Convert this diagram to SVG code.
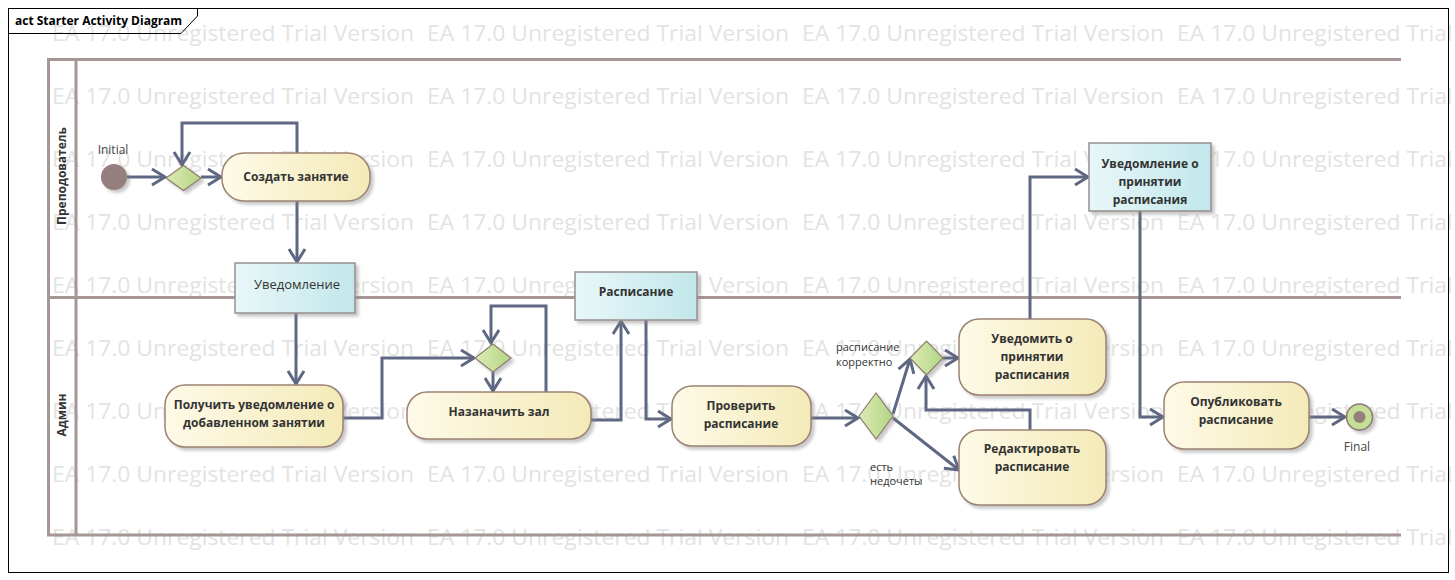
<svg xmlns="http://www.w3.org/2000/svg" width="1455" height="580" viewBox="0 0 1455 580">
<style>
.wm{font-family:"Open Sans","Noto Sans",sans-serif;font-size:21px;fill:#e3e3e3}
.t{font-family:"Open Sans","Noto Sans",sans-serif;font-size:12px;font-weight:bold;fill:#333;text-anchor:middle}
.r{font-family:"Open Sans","Noto Sans",sans-serif;font-size:12px;fill:#444;text-anchor:middle}
.g{font-family:"Open Sans","Noto Sans",sans-serif;font-size:11px;fill:#333}
.act{fill:url(#ga);stroke:#9c8272;stroke-width:1.5;filter:url(#sh)}
.obj{fill:url(#go);stroke:#9a8e8e;stroke-width:1.5;filter:url(#sh)}
.dec{fill:url(#gd);stroke:#8e7d6c;stroke-width:1.2;filter:url(#sh)}
.lane{stroke:#a69696;stroke-width:3;fill:none}
.c{fill:none;stroke:#5f6882;stroke-width:3;marker-end:url(#ah)}
</style>
<defs>
<linearGradient id="ga" x1="0" y1="0" x2="1" y2="0"><stop offset="0" stop-color="#fdfae8"/><stop offset="1" stop-color="#f4eab8"/></linearGradient>
<linearGradient id="go" x1="0" y1="0" x2="1" y2="0"><stop offset="0" stop-color="#e8f7f9"/><stop offset="1" stop-color="#c2e7ea"/></linearGradient>
<linearGradient id="gd" x1="0" y1="0" x2="1" y2="0"><stop offset="0" stop-color="#dcebb4"/><stop offset="1" stop-color="#b4d585"/></linearGradient>
<filter id="sh" x="-20%" y="-20%" width="140%" height="140%"><feDropShadow dx="3" dy="3" stdDeviation="1.5" flood-color="#888" flood-opacity="0.45"/></filter>
<marker id="ah" markerUnits="userSpaceOnUse" markerWidth="20" markerHeight="20" refX="0" refY="0" viewBox="-16 -10 20 20" orient="auto" overflow="visible">
<path d="M-13,-8 L0,0 L-13,8" fill="none" stroke="#5f6882" stroke-width="3"/>
</marker>
</defs>
<rect x="0" y="0" width="1455" height="580" fill="#fff"/>
<g id="watermark">
<g id="wmrow">
<text class="wm" x="52" y="41" textLength="362" lengthAdjust="spacingAndGlyphs">EA 17.0 Unregistered Trial Version</text>
<text class="wm" x="427" y="41" textLength="362" lengthAdjust="spacingAndGlyphs">EA 17.0 Unregistered Trial Version</text>
<text class="wm" x="802" y="41" textLength="362" lengthAdjust="spacingAndGlyphs">EA 17.0 Unregistered Trial Version</text>
<text class="wm" x="1177" y="41" textLength="362" lengthAdjust="spacingAndGlyphs">EA 17.0 Unregistered Trial Version</text>
</g>
<use href="#wmrow" y="63"/><use href="#wmrow" y="126"/><use href="#wmrow" y="189"/><use href="#wmrow" y="252"/><use href="#wmrow" y="315"/><use href="#wmrow" y="378"/><use href="#wmrow" y="441"/><use href="#wmrow" y="504"/>
</g>
<g id="frame">
<rect x="8.5" y="8.5" width="1440" height="564" fill="none" stroke="#000" stroke-width="1"/>
<path d="M8.5,33.5 H181 L197.5,16 V8.5" fill="none" stroke="#000" stroke-width="1"/>
<text x="15" y="25" font-family="'Open Sans','Noto Sans',sans-serif" font-size="12" font-weight="bold" fill="#000">act Starter Activity Diagram</text>
</g>
<g id="swimlanes">
<path class="lane" d="M1401,59.5 H48.5 V535 H1401"/>
<path class="lane" d="M76,59.5 V535"/>
<path class="lane" d="M48.5,297.5 H1401"/>
<text class="t" transform="translate(66,176) rotate(-90)">Преподователь</text>
<text class="t" transform="translate(66,415) rotate(-90)">Админ</text>
</g>
<g id="connectors">
<path class="c" d="M127,177 H165"/>
<path class="c" d="M201,177 H221"/>
<path class="c" d="M297,153 V123 H182 V165"/>
<path class="c" d="M297,201 V262"/>
<path class="c" d="M296,313 V384"/>
<path class="c" d="M343,418 H382 V358 H474"/>
<path class="c" d="M546,392 V306 H491 V343"/>
<path class="c" d="M493,372 V391"/>
<path class="c" d="M591,420 H621 V321"/>
<path class="c" d="M646,320 V419 H671"/>
<path class="c" d="M811,418 H858"/>
<path class="c" d="M893,414 L910,359"/>
<path class="c" d="M893,418 L959,470"/>
<path class="c" d="M943,358 H958"/>
<path class="c" d="M1030,430 V410 H926 V376"/>
<path class="c" d="M1030,319 V177 H1088"/>
<path class="c" d="M1140,211 V417 H1163"/>
<path class="c" d="M1309,417 H1345"/>
</g>
<g id="initial">
<circle cx="114" cy="177" r="13" fill="#957e7e" filter="url(#sh)"/>
<text class="r" x="113" y="154">Initial</text>
</g>
<g id="decision1"><path class="dec" d="M166,178 L183.5,165.5 L201,178 L183.5,190.5 Z"/></g>
<g id="create">
<rect class="act" x="222" y="153" width="148" height="48" rx="22"/>
<text class="t" x="296" y="181">Создать занятие</text>
</g>
<g id="notification">
<rect class="obj" x="235" y="263" width="120" height="50"/>
<text class="r" x="297" y="289" style="font-size:13px;fill:#333">Уведомление</text>
</g>
<g id="receive">
<rect class="act" x="165" y="385" width="178" height="62" rx="20"/>
<text class="t" x="254" y="409">Получить уведомление о</text>
<text class="t" x="254" y="427">добавленном занятии</text>
</g>
<g id="decision2"><path class="dec" d="M475,358 L493,344 L511,358 L493,372 Z"/></g>
<g id="assign">
<rect class="act" x="407" y="392" width="184" height="47" rx="20"/>
<text class="t" x="499" y="416">Назаначить зал</text>
</g>
<g id="schedule">
<rect class="obj" x="575" y="272" width="122" height="48"/>
<text class="t" x="636" y="296">Расписание</text>
</g>
<g id="check">
<rect class="act" x="672" y="386" width="139" height="60" rx="20"/>
<text class="t" x="741" y="410">Проверить</text>
<text class="t" x="741" y="428">расписание</text>
</g>
<g id="decision3"><path class="dec" d="M859,416 L876,393 L893,416 L876,439 Z"/></g>
<g id="decision4"><path class="dec" d="M910,358 L926.5,341 L943,358 L926.5,375 Z"/></g>
<g id="guards">
<text class="g" x="836" y="351">расписание</text>
<text class="g" x="836" y="366">корректно</text>
<text class="g" x="870" y="471">есть</text>
<text class="g" x="870" y="485">недочеты</text>
</g>
<g id="notify">
<rect class="act" x="959" y="319" width="147" height="76" rx="20"/>
<text class="t" x="1032" y="343">Уведомить о</text>
<text class="t" x="1032" y="361">принятии</text>
<text class="t" x="1032" y="379">расписания</text>
</g>
<g id="edit">
<rect class="act" x="959" y="430" width="147" height="75" rx="20"/>
<text class="t" x="1032" y="453">Редактировать</text>
<text class="t" x="1032" y="471">расписание</text>
</g>
<g id="acceptNote">
<rect class="obj" x="1089" y="143" width="122" height="68"/>
<text class="t" x="1150" y="168">Уведомление о</text>
<text class="t" x="1150" y="186">принятии</text>
<text class="t" x="1150" y="204">расписания</text>
</g>
<g id="publish">
<rect class="act" x="1164" y="382" width="145" height="67" rx="20"/>
<text class="t" x="1236" y="406">Опубликовать</text>
<text class="t" x="1236" y="424">расписание</text>
</g>
<g id="final">
<circle cx="1359.5" cy="417" r="13" fill="#c6df96" stroke="#8e7878" stroke-width="1.5" filter="url(#sh)"/>
<circle cx="1359.5" cy="417" r="6" fill="#957e7e"/>
<text class="r" x="1357" y="451">Final</text>
</g>
</svg>
